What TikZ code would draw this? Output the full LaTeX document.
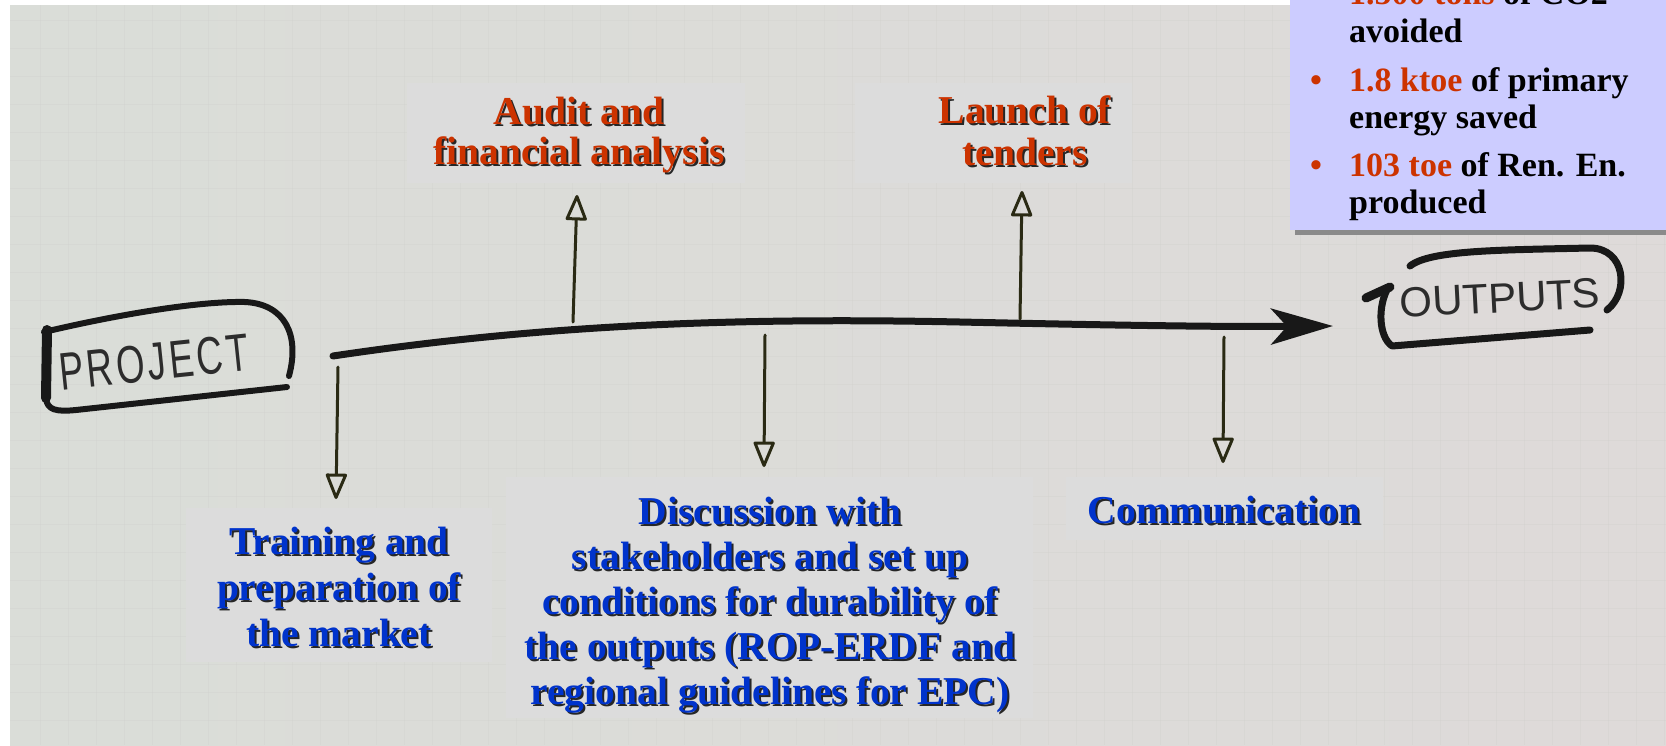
\documentclass[tikz,border=0pt]{standalone}
\usepackage{fontspec}
\setmainfont{Liberation Serif}
\newfontfamily\handfont{Liberation Sans}
\newfontfamily\handspaced[LetterSpace=9]{Liberation Sans}
\usetikzlibrary{arrows.meta}
\definecolor{tred}{HTML}{CC3300}
\definecolor{tblue}{HTML}{0033CC}
\definecolor{boxgray}{HTML}{DCDCDC}
\definecolor{lav}{HTML}{CCCCFF}
\definecolor{shadowgray}{HTML}{8A8A8A}
\definecolor{paperL}{HTML}{DADDD8}
\definecolor{paperR}{HTML}{DEDAD9}
\definecolor{gridc}{HTML}{CFCFCB}
\definecolor{ink}{HTML}{181818}
\definecolor{pen}{HTML}{2A2A14}
\definecolor{handink}{HTML}{2C2C2C}
\newcommand\shlabel[5]{%
  \node[lbl, text=black!85, xshift=2pt, yshift=-2pt, font=\fontsize{39.5}{#4}\selectfont\bfseries] (#1s) at (#2) {#5};
  \node[lbl, text=#3, font=\fontsize{39.5}{#4}\selectfont\bfseries] (#1) at (#2) {#5};}
\begin{document}
\begin{tikzpicture}[x=1pt,y=-1pt,
  lbox/.style={fill=boxgray, draw=none, inner sep=0pt, outer sep=0pt},
  lbl/.style={align=center, inner sep=0pt},
  rtxt/.style={font=\fontsize{34}{37}\selectfont\bfseries, anchor=base west, inner sep=0pt},
  rbul/.style={font=\fontsize{34}{37}\selectfont\bfseries, text=tred, anchor=base, inner sep=0pt},
  marker/.style={draw=ink, line cap=round, line join=round},
  hand/.style={font=\handfont\fontsize{53}{53}\selectfont, text=handink, inner sep=0pt},
  penarrow/.style={draw=pen, line width=3pt, line cap=round, -{Triangle[open, length=28pt, width=22pt, line width=3pt, round]}},
]
\useasboundingbox (0,0) rectangle (1666,745);
\clip (0,0) rectangle (1666,745);
% photo of the paper
\fill[white] (0,0) rectangle (1666,745);
\shade[left color=paperL, right color=paperR] (10,5) rectangle (1666,745);
\foreach \gx in {40,68,...,1666} {\draw[gridc, line width=0.8pt, opacity=0.3] (\gx,5) -- (\gx,745);}
\foreach \gy in {20,48,...,745} {\draw[gridc, line width=0.8pt, opacity=0.3] (10,\gy) -- (1666,\gy);}

% hand drawn PROJECT label
\draw[marker, line width=6pt] (44,332) .. controls (120,314) and (200,301) .. (245,302) .. controls (285,304) and (300,335) .. (289,376);
\draw[marker, line width=10pt] (47,330) -- (46,398);
\draw[marker, line width=6pt] (46,398) .. controls (47,410) and (56,412) .. (76,410) -- (287,387);
\node[hand, rotate=6, font=\handspaced\fontsize{53}{53}\selectfont] (proj) at (154,362) {\scalebox{0.69}[1]{PROJECT}};

% hand drawn OUTPUTS label
\draw[marker, line width=7pt] (1410,266) .. controls (1430,250) and (1500,250) .. (1590,248) .. controls (1625,248) and (1630,292) .. (1607,310);
\draw[marker, line width=9pt] (1366,298) -- (1390,287);
\draw[marker, line width=7pt] (1388,288) .. controls (1378,305) and (1378,336) .. (1392,346) -- (1590,330);
\node[hand, rotate=3, font=\handfont\fontsize{42}{42}\selectfont] (outp) at (1500,298) {OUTPUTS};

% main time line
\coordinate (ms) at (333,356);
\coordinate (me) at (1333,326);
\draw[marker, line width=7pt, -{Stealth[length=62pt, width=36pt, inset=16pt]}] (ms) .. controls (560,322) and (760,318) .. (960,322) .. controls (1100,325) and (1220,327) .. (me);

% thin pen arrows
\coordinate (a1s) at (338,367); \coordinate (a1e) at (336,499);
\coordinate (a2s) at (573,322); \coordinate (a2e) at (577,195);
\coordinate (a3s) at (765,335); \coordinate (a3e) at (764,467);
\coordinate (a4s) at (1020,319); \coordinate (a4e) at (1022,191);
\coordinate (a5s) at (1224,337); \coordinate (a5e) at (1223,463);
\draw[penarrow] (a1s) -- (a1e);
\draw[penarrow] (a2s) -- (a2e);
\draw[penarrow] (a3s) -- (a3e);
\draw[penarrow] (a4s) -- (a4e);
\draw[penarrow] (a5s) -- (a5e);

% label boxes
\node[lbox, minimum width=338pt, minimum height=100pt] (auditbox) at (576,133) {};
\node[lbox, minimum width=277pt, minimum height=100pt] (launchbox) at (993.5,133) {};
\node[lbox, minimum width=306pt, minimum height=154pt] (trainbox) at (339,585) {};
\node[lbox, minimum width=527pt, minimum height=241pt] (discbox) at (769.5,597.5) {};
\node[lbox, minimum width=317pt, minimum height=63pt] (commbox) at (1224.5,508.5) {};

\shlabel{audit}{579,135}{tred}{40}{Audit and\\financial analysis}
\shlabel{launch}{1025,131}{tred}{42}{Launch of\\tenders}
\shlabel{train}{339,587}{tblue}{46}{Training and\\preparation of\\the market}
\shlabel{disc}{770,605}{tblue}{45}{Discussion with\\stakeholders and set up\\conditions for durability of\\the outputs (ROP-ERDF and\\regional guidelines for EPC)}
\shlabel{comm}{1224,510}{tblue}{39}{Communication}

% results box
\fill[shadowgray] (1295,-5) rectangle (1672,235);
\fill[lav] (1290,-10) rectangle (1666,230);
\node[rtxt] (r0) at (1349,4) {{\color{tred}1.500 tons} of CO2};
\node[rtxt] (r1) at (1349,42) {avoided};
\node[rbul] (b1) at (1316,91) {\textbullet};
\node[rtxt] (r2) at (1349,91) {{\color{tred}1.8 ktoe} of primary};
\node[rtxt] (r3) at (1349,128) {energy saved};
\node[rbul] (b2) at (1316,176) {\textbullet};
\node[rtxt] (r4) at (1349,176) {{\color{tred}103 toe} of Ren. En.};
\node[rtxt] (r5) at (1349,213) {produced};
\end{tikzpicture}
\end{document}
